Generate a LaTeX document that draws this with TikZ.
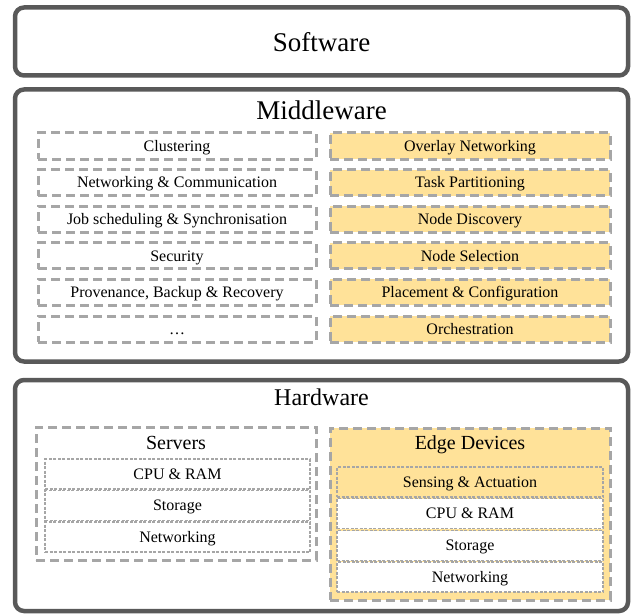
\documentclass[tikz,border=0pt]{standalone}
\usepackage{fontspec}
\setmainfont{Liberation Serif}

\definecolor{layerline}{RGB}{89,89,89}
\definecolor{boxline}{RGB}{166,166,166}
\definecolor{edgefill}{RGB}{255,226,153}

\begin{document}
\begin{tikzpicture}[x=1pt,y=-1pt,
    layer/.style={draw=layerline, line width=4.5pt, rounded corners=9pt, fill=white, inner sep=0pt},
    part/.style={draw=boxline, line width=3pt, dash pattern=on 9pt off 5pt, inner sep=0pt,
                 minimum height=26pt, text height=12pt, text depth=1.5pt,
                 font=\fontsize{16}{18}\selectfont},
    group/.style={draw=boxline, line width=3pt, dash pattern=on 9pt off 5pt, inner sep=0pt},
    grouptitle/.style={text height=15pt, text depth=2pt, font=\fontsize{20}{22}\selectfont},
    unit/.style={draw=boxline, line width=1.3pt, dash pattern=on 3pt off 1.5pt, fill=white, inner sep=0pt,
                 minimum width=266pt, minimum height=30pt, text height=12pt, text depth=1.5pt,
                 font=\fontsize{16}{18}\selectfont}]
    \useasboundingbox (0,0) rectangle (637,615);

    % Draw the three layers
    \node[layer, minimum width=613pt, minimum height=68pt] (software) at (321.5,41.5) {};
    \node[layer, minimum width=613pt, minimum height=272pt] (middleware) at (321.5,225.5) {};
    \node[layer, minimum width=613pt, minimum height=231pt] (hardware) at (321.5,495.5) {};

    % Layer titles
    \node[font=\fontsize{27}{30}\selectfont] (softwaretitle) at (321.5,42) {Software};
    \node[font=\fontsize{27}{30}\selectfont] (middlewaretitle) at (321.5,110) {Middleware};
    \node[font=\fontsize{24}{27}\selectfont] (hardwaretitle) at (321.5,397) {Hardware};

    % Middleware components
    \foreach \txt [count=\i] in {Clustering, Networking \& Communication,
        Job scheduling \& Synchronisation, Security, {Provenance, Backup \& Recovery}, \ldots} {
        \node[part, fill=white, minimum width=278pt] (left\i) at (177,{109.4+36.6*\i}) {\txt};
    }
    \foreach \txt [count=\i] in {Overlay Networking, Task Partitioning, Node Discovery,
        Node Selection, Placement \& Configuration, Orchestration} {
        \node[part, fill=edgefill, minimum width=280pt] (right\i) at (470,{109.4+36.6*\i}) {\txt};
    }

    % Servers
    \node[group, fill=white, minimum width=280pt, minimum height=133pt] (servers) at (176,493.5) {};
    \node[grouptitle] (serverstitle) at (176,443) {Servers};
    \node[unit, minimum width=265pt] (scpu) at (177.5,474) {CPU \& RAM};
    \node[unit, minimum width=265pt] (sstorage) at (177.5,505.5) {Storage};
    \node[unit, minimum width=265pt] (snet) at (177.5,537) {Networking};

    % Edge devices
    \node[group, fill=edgefill, minimum width=280pt, minimum height=172pt] (edge) at (470,514) {};
    \node[grouptitle] (edgetitle) at (470,443) {Edge Devices};
    \node[unit, fill=edgefill] (esense) at (470,482) {Sensing \& Actuation};
    \node[unit] (ecpu) at (470,513.5) {CPU \& RAM};
    \node[unit] (estorage) at (470,545.5) {Storage};
    \node[unit] (enet) at (470,577) {Networking};
\end{tikzpicture}
\end{document}
